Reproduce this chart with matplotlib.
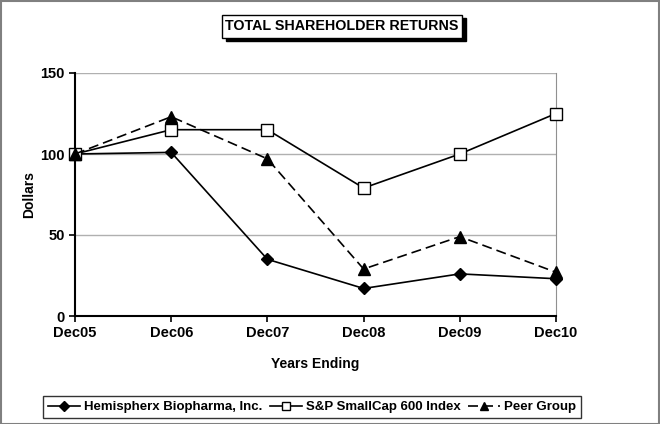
import matplotlib
matplotlib.use('Agg')
import matplotlib.pyplot as plt
from matplotlib.patches import Rectangle

plt.rcParams['font.family'] = ['Liberation Sans', 'DejaVu Sans']
plt.rcParams['font.weight'] = 'bold'
plt.rcParams['axes.labelweight'] = 'bold'

years = ['Dec05', 'Dec06', 'Dec07', 'Dec08', 'Dec09', 'Dec10']
hemispherx = [100, 101, 35, 17, 26, 23]
smallcap = [100, 115, 115, 79, 100, 125]
peer = [100, 123, 97, 29, 49, 27]

fig = plt.figure(figsize=(6.6, 4.24), dpi=100)
ax = fig.add_axes([75/660, 1-316/424, (556-75)/660, (316-73)/424])

x = list(range(len(years)))
ax.plot(x, hemispherx, color='black', lw=1.2, marker='D', ms=6,
        label='Hemispherx Biopharma, Inc.', zorder=3, clip_on=False)
ax.plot(x, smallcap, color='black', lw=1.2, marker='s', ms=8, mfc='white',
        mec='black', label='S&P SmallCap 600 Index', zorder=3, clip_on=False)
ax.plot(x, peer, color='black', lw=1.2, ls=(0, (6, 3)), marker='^', ms=8,
        label='Peer Group', zorder=3, clip_on=False)

ax.set_xlim(0, len(years) - 1)
ax.set_ylim(0, 150)
ax.set_yticks([0, 50, 100, 150])
ax.set_xticks(x)
ax.set_xticklabels(years)
ax.tick_params(labelsize=10.5, length=4, width=1.2, color='black')
ax.yaxis.grid(True, color='#b0b0b0', lw=1)
ax.set_axisbelow(True)

for s in ['left', 'bottom']:
    ax.spines[s].set_color('black')
    ax.spines[s].set_linewidth(1.5)
ax.spines['top'].set_visible(False)
ax.spines['right'].set_color('#909090')

ax.set_ylabel('Dollars', fontsize=10, labelpad=3)
ax.set_xlabel('Years Ending', fontsize=10, labelpad=12)

# title box with shadow
fig.patches.append(Rectangle((226/660, 1-41/424), 240/660, 23/424,
                             transform=fig.transFigure, color='black', zorder=1))
fig.patches.append(Rectangle((222/660, 1-38/424), 240/660, 23/424,
                             transform=fig.transFigure, fc='white', ec='black',
                             lw=1, zorder=2))
fig.text(342/660, 1-26.5/424, 'TOTAL SHAREHOLDER RETURNS', ha='center',
         va='center', fontsize=10.3, zorder=3)

leg = fig.legend(loc='center', bbox_to_anchor=(312/660, 1-407/424), ncol=3,
                 fontsize=9.5, frameon=True, fancybox=False, edgecolor='black',
                 handlelength=2.4, handletextpad=0.3, columnspacing=0.6,
                 borderpad=0.35, markerscale=0.8)
leg.get_frame().set_linewidth(1)

fig.patches.append(Rectangle((0.001, 0.001), 0.997, 0.997,
                             transform=fig.transFigure, fill=False,
                             ec='#808080', lw=1.5))

fig.savefig('out.png', dpi=100)
